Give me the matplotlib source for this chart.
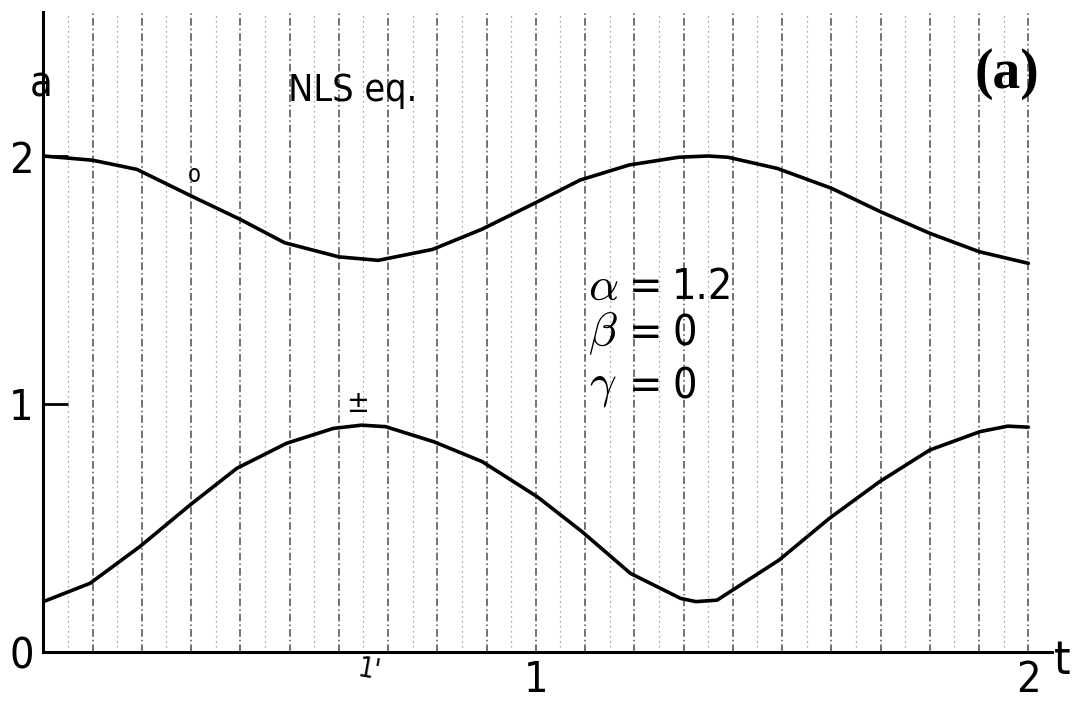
import matplotlib
matplotlib.use("Agg")
import matplotlib.pyplot as plt
from matplotlib.ticker import MultipleLocator
from matplotlib.font_manager import FontProperties

# ---- data ----
t_upper = [0.0, 0.10, 0.19, 0.30, 0.40, 0.49, 0.60, 0.68, 0.79, 0.89, 1.00,
           1.09, 1.19, 1.29, 1.35, 1.39, 1.49, 1.60, 1.70, 1.80, 1.90, 2.0]
a_upper = [2.000, 1.983, 1.946, 1.839, 1.744, 1.650, 1.593, 1.579, 1.623, 1.704, 1.812,
           1.903, 1.964, 1.995, 2.000, 1.995, 1.950, 1.870, 1.775, 1.688, 1.614, 1.567]

t_lower = [0.0, 0.095, 0.196, 0.298, 0.393, 0.494, 0.589, 0.646, 0.695, 0.793, 0.891,
           1.003, 1.094, 1.192, 1.294, 1.325, 1.368, 1.494, 1.596, 1.698, 1.800, 1.902,
           1.958, 2.0]
a_lower = [0.202, 0.276, 0.424, 0.592, 0.740, 0.841, 0.901, 0.914, 0.908, 0.847, 0.767,
           0.625, 0.484, 0.316, 0.215, 0.202, 0.208, 0.370, 0.538, 0.686, 0.814, 0.888,
           0.910, 0.906]

x_ticks = [1, 2]
x_tick_labels = ["1", "2"]
y_ticks = [0, 1, 2]
y_tick_labels = ["0", "1", "2"]

param_symbols = [r"$\alpha$", r"$\beta$", r"$\gamma$"]
param_values = ["1.2", "0", "0"]

# ---- figure ----
W, H = 1072, 701
fig = plt.figure(figsize=(W / 100, H / 100), dpi=100)
x0, x_end, y0, y_top = 43.3, 1052.0, 651.7, 12.0
ax = fig.add_axes([x0 / W, (H - y0) / H, (x_end - x0) / W, (y0 - y_top) / H])
ax.set_xlim(0, 2.048)
ax.set_ylim(0, 2.581)

# half-step faint scan lines on a twin axis
ax2 = ax.twiny()
ax2.set_xlim(ax.get_xlim())
ax2.xaxis.set_major_locator(MultipleLocator(0.1, offset=0.05))
ax2.tick_params(length=0, labeltop=False, labelbottom=False)
ax2.grid(axis="x", color="0.55", lw=0.9, ls=(0, (1, 3)))
for s in ax2.spines.values():
    s.set_visible(False)
ax.set_zorder(2)
ax.patch.set_visible(False)

for s in ["top", "right"]:
    ax.spines[s].set_visible(False)
for s in ["left", "bottom"]:
    ax.spines[s].set_linewidth(2.2)

ax.plot(t_upper, a_upper, color="black", lw=2.6, solid_capstyle="round",
        solid_joinstyle="round", zorder=3)
ax.plot(t_lower, a_lower, color="black", lw=2.6, solid_capstyle="round",
        solid_joinstyle="round", zorder=3)

tick_fp = FontProperties(family="DejaVu Sans", weight="light", stretch="condensed", size=31)
ax.set_xticks(x_ticks)
ax.set_xticklabels(x_tick_labels)
ax.set_yticks(y_ticks)
ax.set_yticklabels(y_tick_labels)
for lbl in ax.get_xticklabels() + ax.get_yticklabels():
    lbl.set_fontproperties(tick_fp)
ax.tick_params(axis="y", direction="in", length=18, width=2.0, pad=7)
ax.tick_params(axis="x", direction="in", length=0, pad=5)

ax.xaxis.set_minor_locator(MultipleLocator(0.1))
ax.tick_params(which="minor", length=0)
ax.grid(which="both", axis="x", color="0.3", lw=1.1, ls=(0, (5, 2, 1, 2)), zorder=0)
ax.set_axisbelow(True)

txt = dict(family="DejaVu Sans", weight="light", stretch="condensed", color="black")
ax.text(-0.005, 2.29, "a", ha="center", va="center", fontsize=30, clip_on=False, **txt)
ax.text(2.068, -0.038, "t", ha="center", va="center", fontsize=34, clip_on=False, **txt)
ax.text(0.497, 2.262, "NLS eq.", ha="left", va="center", fontsize=27, **txt)
ax.text(0.306, 1.923, "o", ha="center", va="center", fontsize=17, **txt)
ax.text(0.639, 1.0, "±", ha="center", va="center", fontsize=22, **txt)
ax.text(0.661, -0.075, "1'", ha="center", va="center", fontsize=20, rotation=-10,
        clip_on=False, **txt)
ax.text(1.957, 2.331, "(a)", ha="center", va="center", fontsize=40,
        family="Liberation Serif", weight="bold")

rows_y = [1.471, 1.283, 1.07]
for sym, val, yy in zip(param_symbols, param_values, rows_y):
    ax.text(1.136, yy, sym, ha="center", va="center", fontsize=34, math_fontfamily="cm")
    ax.text(1.222, yy, "=", ha="center", va="center", fontsize=32, **txt)
    ax.text(1.277, yy, val, ha="left", va="center", fontsize=31, **txt)

fig.savefig("out.png", dpi=100)
